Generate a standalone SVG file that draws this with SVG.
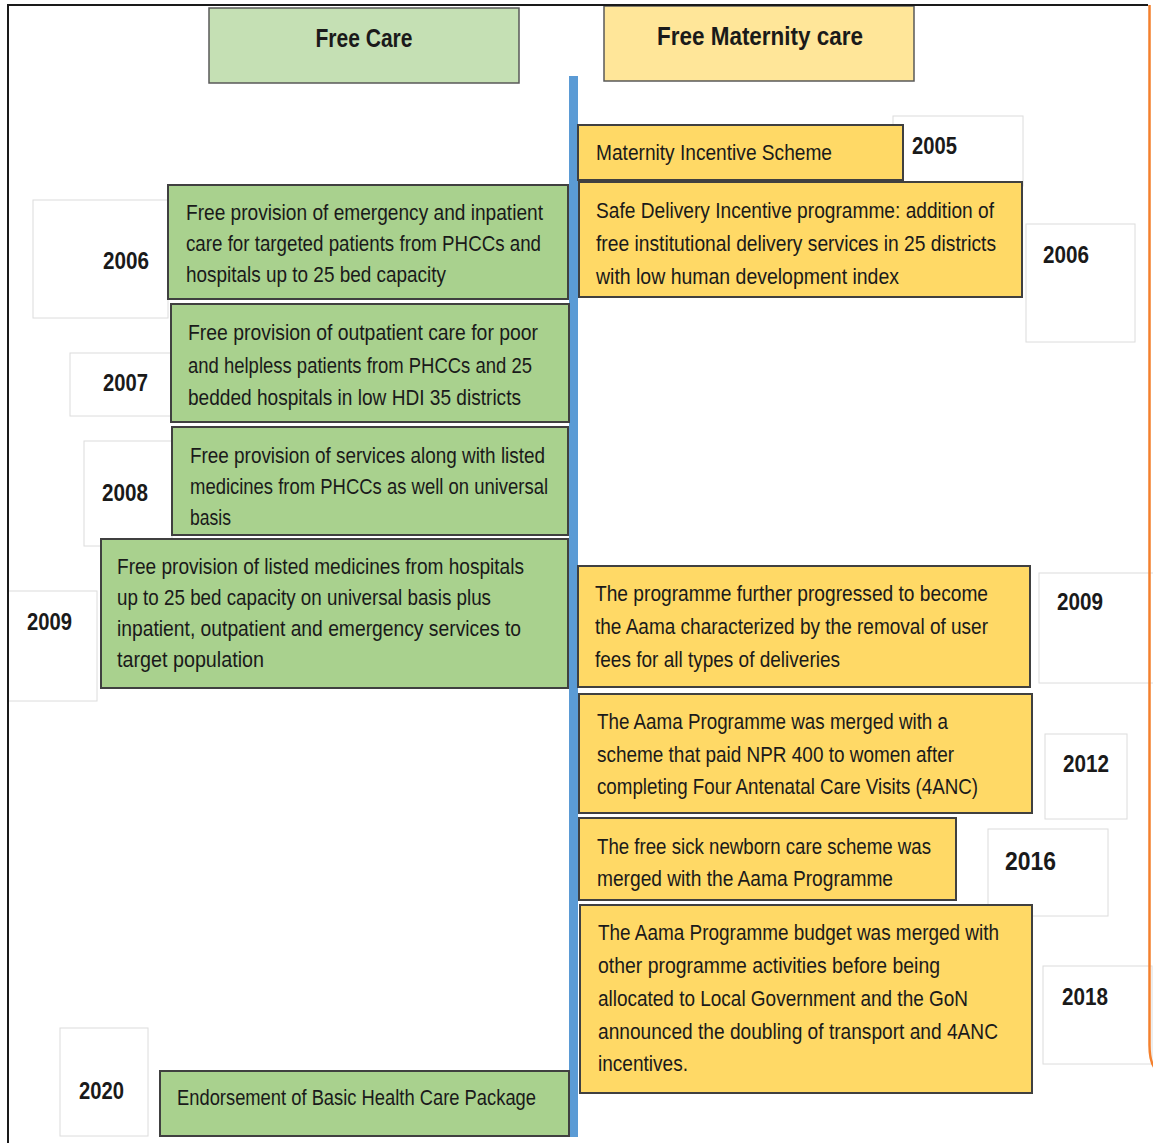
<svg xmlns="http://www.w3.org/2000/svg" width="1153" height="1143" viewBox="0 0 1153 1143">
<style>
.hdrG{fill:#c5e0b4;stroke:#595959;stroke-width:1.5}
.hdrY{fill:#ffe699;stroke:#595959;stroke-width:1.5}
.g{fill:#a9d18e;stroke:#404040;stroke-width:2}
.y{fill:#ffd966;stroke:#404040;stroke-width:2}
.yr{fill:#ffffff;stroke:#dcdcdc;stroke-width:1}
text{font-family:"Liberation Sans","DejaVu Sans",sans-serif;fill:#1a1a1a}
.t{font-size:22px}
.h{font-size:25px;font-weight:bold;text-anchor:middle}
.d{font-size:23px;font-weight:bold}
</style>
<rect x="0" y="0" width="1153" height="1143" fill="#ffffff"/>
<g id="hdr-free-care"><rect class="hdrG" x="209" y="8" width="310" height="75"/><text class="h" x="364" y="47" textLength="97" lengthAdjust="spacingAndGlyphs">Free Care</text></g>
<g id="hdr-free-maternity"><rect class="hdrY" x="604" y="6" width="310" height="75"/><text class="h" x="760" y="45" textLength="206" lengthAdjust="spacingAndGlyphs">Free Maternity care</text></g>
<g id="connectors"><rect x="569" y="76" width="9" height="1061" fill="#5b9bd5"/></g>

<g id="year-left-2006"><rect class="yr" x="33" y="200" width="135" height="118"/><text class="d" x="103" y="269" textLength="46" lengthAdjust="spacingAndGlyphs">2006</text></g>
<g id="year-left-2007"><rect class="yr" x="70" y="353" width="101" height="63"/><text class="d" x="103" y="391" textLength="45" lengthAdjust="spacingAndGlyphs">2007</text></g>
<g id="year-left-2008"><rect class="yr" x="84" y="441" width="88" height="105"/><text class="d" x="102" y="501" textLength="46" lengthAdjust="spacingAndGlyphs">2008</text></g>
<g id="year-left-2009"><rect class="yr" x="8" y="591" width="89" height="110"/><text class="d" x="27" y="630" textLength="45" lengthAdjust="spacingAndGlyphs">2009</text></g>
<g id="year-left-2020"><rect class="yr" x="60" y="1028" width="88" height="108"/><text class="d" x="79" y="1099" textLength="45" lengthAdjust="spacingAndGlyphs">2020</text></g>

<g id="year-right-2005"><rect class="yr" x="893" y="116" width="130" height="70"/><text class="d" x="912" y="154" textLength="45" lengthAdjust="spacingAndGlyphs">2005</text></g>
<g id="year-right-2006"><rect class="yr" x="1026" y="224" width="109" height="118"/><text class="d" x="1043" y="263" textLength="46" lengthAdjust="spacingAndGlyphs">2006</text></g>
<g id="year-right-2009"><rect class="yr" x="1039" y="573" width="116" height="110"/><text class="d" x="1057" y="610" textLength="46" lengthAdjust="spacingAndGlyphs">2009</text></g>
<g id="year-right-2012"><rect class="yr" x="1045" y="734" width="82" height="85"/><text class="d" x="1063" y="772" textLength="46" lengthAdjust="spacingAndGlyphs">2012</text></g>
<g id="year-right-2016"><rect class="yr" x="988" y="829" width="120" height="87"/><text class="d" x="1005" y="870" style="font-size:26px" textLength="51" lengthAdjust="spacingAndGlyphs">2016</text></g>
<g id="year-right-2018"><rect class="yr" x="1043" y="966" width="109" height="98"/><text class="d" x="1062" y="1005" textLength="46" lengthAdjust="spacingAndGlyphs">2018</text></g>

<g id="fc-2006"><rect class="g" x="168" y="185" width="400" height="114"/>
<text class="t" x="186" y="220" textLength="357" lengthAdjust="spacingAndGlyphs">Free provision of emergency and inpatient</text>
<text class="t" x="186" y="251" textLength="355" lengthAdjust="spacingAndGlyphs">care for targeted patients from PHCCs and</text>
<text class="t" x="186" y="282" textLength="260" lengthAdjust="spacingAndGlyphs">hospitals up to 25 bed capacity</text></g>
<g id="fc-2007"><rect class="g" x="171" y="304" width="398" height="118"/>
<text class="t" x="188" y="340" textLength="350" lengthAdjust="spacingAndGlyphs">Free provision of outpatient care for poor</text>
<text class="t" x="188" y="373" textLength="344" lengthAdjust="spacingAndGlyphs">and helpless patients from PHCCs and 25</text>
<text class="t" x="188" y="405" textLength="333" lengthAdjust="spacingAndGlyphs">bedded hospitals in low HDI 35 districts</text></g>
<g id="fc-2008"><rect class="g" x="172" y="427" width="396" height="108"/>
<text class="t" x="190" y="463" textLength="355" lengthAdjust="spacingAndGlyphs">Free provision of services along with listed</text>
<text class="t" x="190" y="494" textLength="358" lengthAdjust="spacingAndGlyphs">medicines from PHCCs as well on universal</text>
<text class="t" x="190" y="525" textLength="41" lengthAdjust="spacingAndGlyphs">basis</text></g>
<g id="fc-2009"><rect class="g" x="101" y="539" width="467" height="149"/>
<text class="t" x="117" y="574" textLength="407" lengthAdjust="spacingAndGlyphs">Free provision of listed medicines from hospitals</text>
<text class="t" x="117" y="605" textLength="374" lengthAdjust="spacingAndGlyphs">up to 25 bed capacity on universal basis plus</text>
<text class="t" x="117" y="636" textLength="404" lengthAdjust="spacingAndGlyphs">inpatient, outpatient and emergency services to</text>
<text class="t" x="117" y="667" textLength="147" lengthAdjust="spacingAndGlyphs">target population</text></g>
<g id="fc-2020"><rect class="g" x="160" y="1071" width="409" height="65"/>
<text class="t" x="177" y="1105" textLength="359" lengthAdjust="spacingAndGlyphs">Endorsement of Basic Health  Care Package</text></g>

<g id="fm-2005"><rect class="y" x="578" y="125" width="325" height="55"/>
<text class="t" x="596" y="160" textLength="236" lengthAdjust="spacingAndGlyphs">Maternity Incentive Scheme</text></g>
<g id="fm-2006"><rect class="y" x="579" y="182" width="443" height="115"/>
<text class="t" x="596" y="218" textLength="398" lengthAdjust="spacingAndGlyphs">Safe Delivery Incentive programme: addition of</text>
<text class="t" x="596" y="251" textLength="400" lengthAdjust="spacingAndGlyphs">free institutional delivery services in 25 districts</text>
<text class="t" x="596" y="284" textLength="303" lengthAdjust="spacingAndGlyphs">with low human development index</text></g>
<g id="fm-2009"><rect class="y" x="578" y="566" width="452" height="121"/>
<text class="t" x="595" y="601" textLength="393" lengthAdjust="spacingAndGlyphs">The programme further progressed to become</text>
<text class="t" x="595" y="634" textLength="393" lengthAdjust="spacingAndGlyphs">the Aama characterized by the removal of user</text>
<text class="t" x="595" y="667" textLength="245" lengthAdjust="spacingAndGlyphs">fees for all types of deliveries</text></g>
<g id="fm-2012"><rect class="y" x="579" y="694" width="453" height="119"/>
<text class="t" x="597" y="729" textLength="351" lengthAdjust="spacingAndGlyphs">The Aama Programme was merged with a</text>
<text class="t" x="597" y="762" textLength="357" lengthAdjust="spacingAndGlyphs">scheme that paid NPR 400 to women after</text>
<text class="t" x="597" y="794" textLength="381" lengthAdjust="spacingAndGlyphs">completing Four Antenatal Care Visits (4ANC)</text></g>
<g id="fm-2016"><rect class="y" x="579" y="818" width="377" height="82"/>
<text class="t" x="597" y="854" textLength="334" lengthAdjust="spacingAndGlyphs">The free sick newborn care scheme was</text>
<text class="t" x="597" y="886" textLength="296" lengthAdjust="spacingAndGlyphs">merged with the Aama Programme</text></g>
<g id="fm-2018"><rect class="y" x="580" y="905" width="452" height="188"/>
<text class="t" x="598" y="940" textLength="401" lengthAdjust="spacingAndGlyphs">The Aama Programme budget was merged with</text>
<text class="t" x="598" y="973" textLength="342" lengthAdjust="spacingAndGlyphs">other programme activities before being</text>
<text class="t" x="598" y="1006" textLength="370" lengthAdjust="spacingAndGlyphs">allocated to Local Government and the GoN</text>
<text class="t" x="598" y="1039" textLength="400" lengthAdjust="spacingAndGlyphs">announced the doubling of transport and 4ANC</text>
<text class="t" x="598" y="1071" textLength="90" lengthAdjust="spacingAndGlyphs">incentives.</text></g>

<g id="frame" fill="none">
<path d="M8,1143 L8,5 L1148,5" stroke="#1a1a1a" stroke-width="2"/>
<path d="M1149.5,5 L1149.5,1045 Q1149.5,1068 1160,1072" stroke="#f4802d" stroke-width="2.5"/>
</g>
</svg>
